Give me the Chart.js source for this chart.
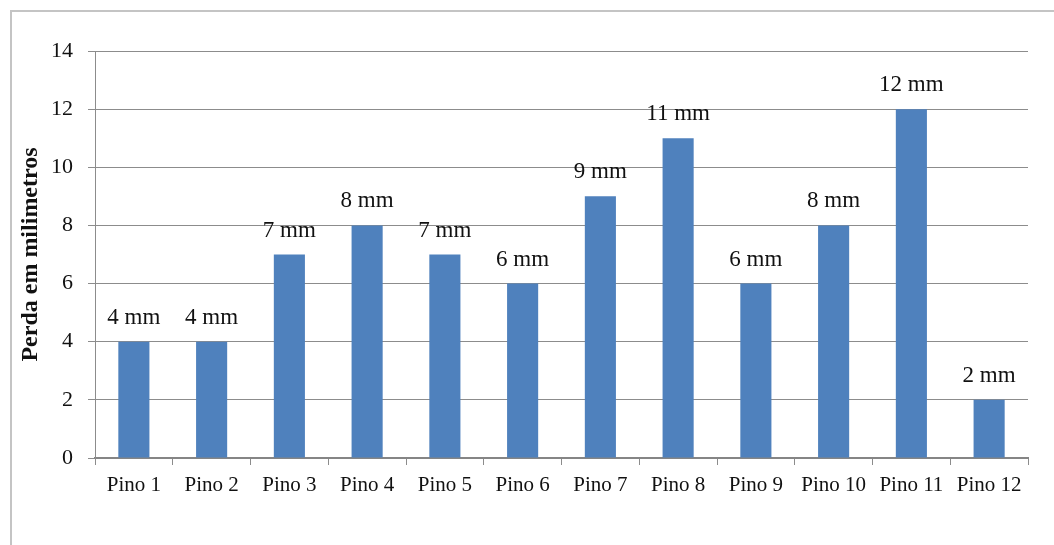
<!DOCTYPE html>
<html>
<head>
<meta charset="utf-8">
<script src="https://cdn.jsdelivr.net/npm/chart.js@4.4.0/dist/chart.umd.min.js"></script>
<style>
  html, body { margin: 0; padding: 0; background: #fff; overflow: hidden; }
  #frame { position: absolute; left: 10px; top: 10px; width: 1100px; height: 600px; border: 2px solid #c4c4c4; }
  #wrap { position: absolute; left: 0; top: 0; width: 1054px; height: 545px; }
</style>
</head>
<body>
<div id="frame"></div>
<div id="wrap"><canvas id="chart"></canvas></div>
<script>
const categories = ['Pino 1', 'Pino 2', 'Pino 3', 'Pino 4', 'Pino 5', 'Pino 6', 'Pino 7', 'Pino 8', 'Pino 9', 'Pino 10', 'Pino 11', 'Pino 12'];
const perda = [4, 4, 7, 8, 7, 6, 9, 11, 6, 8, 12, 2];
const valueLabels = ['4 mm', '4 mm', '7 mm', '8 mm', '7 mm', '6 mm', '9 mm', '11 mm', '6 mm', '8 mm', '12 mm', '2 mm'];
const yTicks = [0, 2, 4, 6, 8, 10, 12, 14];

const serif = "'Liberation Serif', 'Times New Roman', serif";

// writes "4 mm" etc. above each bar
const barLabels = {
  id: 'barLabels',
  afterDatasetsDraw(chart) {
    const ctx = chart.ctx;
    const meta = chart.getDatasetMeta(0);
    ctx.save();
    ctx.font = '23px ' + serif;
    ctx.fillStyle = '#111';
    ctx.textAlign = 'center';
    ctx.textBaseline = 'middle';
    meta.data.forEach((bar, i) => {
      ctx.fillText(valueLabels[i], bar.x, bar.y - 24);
    });
    ctx.restore();
  }
};

new Chart(document.getElementById('chart').getContext('2d'), {
  type: 'bar',
  data: {
    labels: categories,
    datasets: [{
      data: perda,
      backgroundColor: '#4F81BD',
      barPercentage: 0.4,
      categoryPercentage: 1.0
    }]
  },
  options: {
    responsive: true,
    maintainAspectRatio: false,
    animation: false,
    layout: { padding: { top: 51, right: 26, bottom: 0, left: 0 } },
    plugins: {
      legend: { display: false },
      tooltip: { enabled: false }
    },
    scales: {
      x: {
        afterFit(scale) { scale.height = 87; },
        grid: { drawOnChartArea: false, drawTicks: true, tickLength: 7, color: '#8c8c8c' },
        border: { color: '#858585', width: 2 },
        ticks: { color: '#111', padding: 8, maxRotation: 0, font: { family: serif, size: 21 } }
      },
      y: {
        min: 0,
        max: 14,
        afterFit(scale) { scale.width = 95; },
        afterBuildTicks(scale) { scale.ticks = yTicks.map(v => ({ value: v })); },
        grid: { color: '#8c8c8c', tickLength: 7 },
        border: { color: '#8c8c8c', width: 1 },
        ticks: { color: '#111', padding: 15, font: { family: serif, size: 22 } },
        title: {
          display: true,
          text: 'Perda em milimetros',
          color: '#111',
          padding: { top: 16, bottom: 0 },
          font: { family: serif, size: 24, weight: 'bold' }
        }
      }
    }
  },
  plugins: [barLabels]
});
</script>
</body>
</html>
